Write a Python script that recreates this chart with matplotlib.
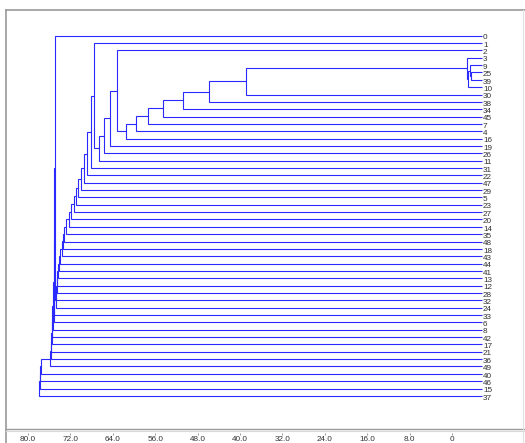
import matplotlib
matplotlib.use("Agg")
import matplotlib.pyplot as plt
from matplotlib.lines import Line2D

# ---------------- data ----------------
leaf_order = [0, 1, 2, 3, 9, 25, 39, 10, 30, 38, 34, 45, 7, 4, 16, 19, 26, 11, 31, 22,
              47, 29, 5, 23, 27, 20, 14, 35, 48, 18, 43, 44, 41, 13, 12, 28, 32, 24, 33, 6,
              8, 42, 17, 21, 36, 49, 40, 46, 15, 37]

# merges: node ids 50, 51, ... in order; children are leaf labels or earlier node ids
merge_a = [25, 9, 51, 3, 53, 54, 55, 56, 57, 58, 59, 2, 61, 62, 63, 1, 65, 66, 67, 68,
           69, 70, 71, 72, 73, 74, 75, 76, 77, 78, 79, 80, 81, 82, 83, 84, 0, 86, 87, 88,
           89, 90, 91, 92, 93, 94, 95, 96, 97]
merge_b = [39, 50, 10, 52, 30, 38, 34, 45, 7, 4, 16, 60, 19, 26, 11, 64, 31, 22, 47, 29,
           5, 23, 27, 20, 14, 35, 48, 18, 43, 44, 41, 13, 12, 28, 32, 24, 85, 33, 6, 8,
           42, 17, 21, 36, 49, 40, 46, 15, 37]
merge_h = [2.08, 2.30, 2.64, 2.83, 44.47, 51.40, 56.30, 60.08, 62.91, 65.28, 67.17, 68.75,
           70.13, 71.21, 72.15, 73.15, 73.72, 74.42, 75.13, 75.66, 76.08, 76.55, 76.96,
           77.40, 77.96, 78.34, 78.72, 79.06, 79.28, 79.53, 79.72, 79.89, 80.04, 80.19,
           80.32, 80.40, 80.51, 80.66, 80.77, 80.89, 81.02, 81.13, 81.26, 81.32, 81.40,
           83.15, 83.28, 83.38, 83.47]

tick_values = [80.0, 72.0, 64.0, 56.0, 48.0, 40.0, 32.0, 24.0, 16.0, 8.0, 0.0]
tick_labels = ["80.0", "72.0", "64.0", "56.0", "48.0", "40.0", "32.0", "24.0", "16.0", "8.0", "0"]

# ---------------- figure ----------------
W, H = 525, 443
fig = plt.figure(figsize=(W / 100, H / 100), dpi=100)
fig.patch.set_facecolor("white")

def fx(px):
    return px / W

def fy(py):
    return 1 - py / H

# dendrogram axes: pixels x 6..522, y 10..428
ax = fig.add_axes([fx(6), fy(428), fx(522) - fx(6), fy(10) - fy(428)])
ax.set_axis_off()
scale = 5.3          # px per unit
leaf_px = 481.7
ax.set_xlim((leaf_px - 6) / scale, (leaf_px - 522) / scale)
y0, dy = 35.7, 7.35
ax.set_ylim((428 - y0) / dy, (10 - y0) / dy)

pos_x = {}
pos_y = {}
for i, lab in enumerate(leaf_order):
    pos_x[lab] = 0.0
    pos_y[lab] = float(i)

line_color = "#2a2aff"
for k, (a, b, h) in enumerate(zip(merge_a, merge_b, merge_h)):
    node = 50 + k
    xa, ya = pos_x[a], pos_y[a]
    xb, yb = pos_x[b], pos_y[b]
    ax.plot([xa, h, h, xb], [ya, ya, yb, yb], color=line_color, lw=0.8,
            solid_joinstyle="miter", solid_capstyle="butt")
    pos_x[node] = h
    pos_y[node] = (ya + yb) / 2

for i, lab in enumerate(leaf_order):
    ax.text(-0.25, i + 0.3, str(lab), ha="left", va="center", fontsize=5.9,
            family="Liberation Sans", color="#333333")

# tick strip axes
tax = fig.add_axes([fx(6), fy(433), fx(522) - fx(6), 0.001])
tax.set_xlim(80 + (28 - 6) / scale, 0 - (522 - 452) / scale)
tax.set_yticks([])
for s in tax.spines.values():
    s.set_visible(False)
tax.set_xticks(tick_values)
tax.set_xticklabels(tick_labels, fontsize=5.9, family="Liberation Sans", color="#333333")
tax.tick_params(axis="x", direction="out", length=1.5, width=0.6, color="#888888", pad=0.8)

# frame lines
frame = "#9a9a9a"
fig.add_artist(Line2D([fx(6), fx(525)], [fy(10), fy(10)], color=frame, lw=1.2))
fig.add_artist(Line2D([fx(6), fx(6)], [fy(10), fy(443)], color=frame, lw=1.2))
fig.add_artist(Line2D([fx(6), fx(525)], [fy(428.5), fy(428.5)], color=frame, lw=1.0))
fig.add_artist(Line2D([fx(6), fx(525)], [fy(431), fy(431)], color="#d8d8d8", lw=0.8))
fig.add_artist(Line2D([fx(523), fx(523)], [fy(10), fy(443)], color="#e0e0e0", lw=0.8))

fig.savefig("out.png", dpi=100, facecolor="white")
